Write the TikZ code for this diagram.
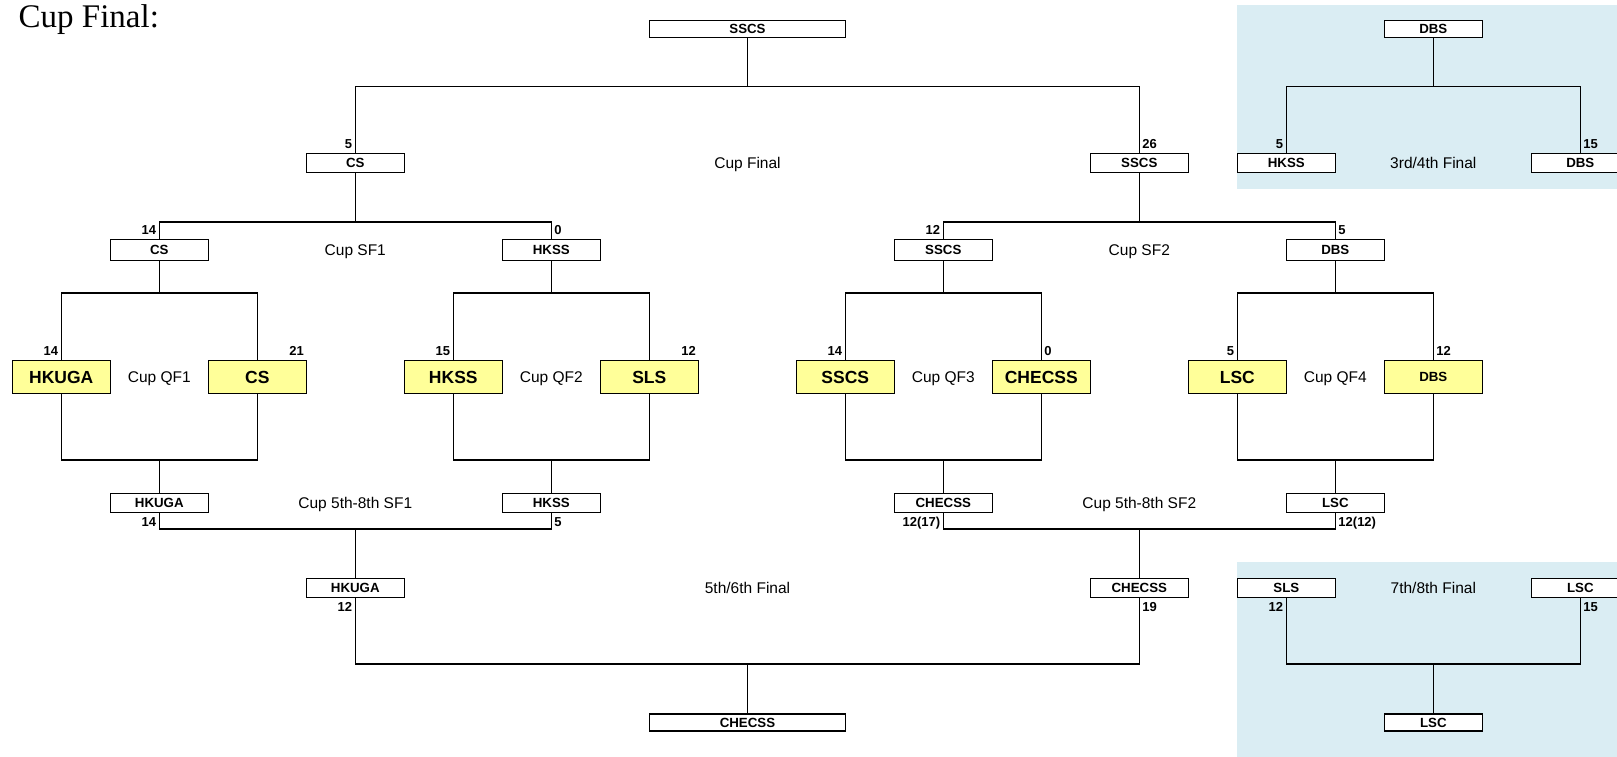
\documentclass[tikz,border=0pt]{standalone}
\usepackage{fontspec}
\setmainfont{Liberation Sans}
\newfontfamily\titlefont{Liberation Serif}
\definecolor{yel}{RGB}{255,255,153}
\definecolor{lblue}{RGB}{218,237,243}
\begin{document}
\begin{tikzpicture}[x=1pt,y=-1pt, line width=1.3pt,
 box/.style={draw, fill=white, minimum width=98pt, minimum height=19pt, inner sep=0pt, text height=9.5pt, text depth=0pt, font=\fontsize{13.3}{14}\selectfont\bfseries},
 widebox/.style={box, minimum width=196pt, minimum height=17pt},
 thinbox/.style={box, minimum height=17pt},
 sfbox/.style={box, minimum height=21pt},
 qfbox/.style={box, fill=yel, minimum height=33pt, text height=12.5pt, font=\fontsize{17.5}{19}\selectfont\bfseries},
 qfsmall/.style={box, fill=yel, minimum height=33pt},
 lbl/.style={inner sep=0pt, text height=11.1pt, text depth=0pt, font=\fontsize{15.5}{17}\selectfont},
 sc/.style={inner sep=0pt, font=\fontsize{13}{14}\selectfont\bfseries},
]
\clip (0,0) rectangle (1617,757);
\fill[lblue] (1236.7,5) rectangle (1617,189.3);
\fill[lblue] (1236.7,562) rectangle (1617,757);

\node[anchor=base west, inner sep=0pt, font=\titlefont\fontsize{33}{36}\selectfont] (title) at (18,28) {Cup Final:};

% junction levels
\coordinate (yF) at (0,86.5);
\coordinate (ySF) at (0,222);
\coordinate (yQ) at (0,293);
\coordinate (yQB) at (0,460);
\coordinate (y58) at (0,529);
\coordinate (y56) at (0,664);

% final
\node[widebox] (top) at (747.5,28.8) {SSCS};
\node[box] (fL) at (355.3,162.8) {CS};
\node[box] (fR) at (1139.3,162.8) {SSCS};
\node[lbl] (lF) at (747.5,162.8) {Cup Final};
% 3rd/4th
\node[thinbox] (top2) at (1433.3,28.8) {DBS};
\node[box] (h1) at (1286.3,162.8) {HKSS};
\node[box] (h2) at (1580.3,162.8) {DBS};
\node[lbl] (l34) at (1433.3,162.8) {3rd/4th Final};
% SF
\node[sfbox] (sf1) at (159.3,249.8) {CS};
\node[sfbox] (sf2) at (551.3,249.8) {HKSS};
\node[sfbox] (sf3) at (943.3,249.8) {SSCS};
\node[sfbox] (sf4) at (1335.3,249.8) {DBS};
\node[lbl] (lsf1) at (355.3,249.8) {Cup SF1};
\node[lbl] (lsf2) at (1139.3,249.8) {Cup SF2};
% QF
\node[qfbox] (q1) at (61.3,376.8) {HKUGA};
\node[qfbox] (q2) at (257.3,376.8) {CS};
\node[qfbox] (q3) at (453.3,376.8) {HKSS};
\node[qfbox] (q4) at (649.3,376.8) {SLS};
\node[qfbox] (q5) at (845.3,376.8) {SSCS};
\node[qfbox] (q6) at (1041.3,376.8) {CHECSS};
\node[qfbox] (q7) at (1237.3,376.8) {LSC};
\node[qfsmall] (q8) at (1433.3,376.8) {DBS};
\node[lbl] (lq1) at (159.3,376.8) {Cup QF1};
\node[lbl] (lq2) at (551.3,376.8) {Cup QF2};
\node[lbl] (lq3) at (943.3,376.8) {Cup QF3};
\node[lbl] (lq4) at (1335.3,376.8) {Cup QF4};
% 5th-8th SF
\node[box] (m1) at (159.3,502.8) {HKUGA};
\node[box] (m2) at (551.3,502.8) {HKSS};
\node[box] (m3) at (943.3,502.8) {CHECSS};
\node[box] (m4) at (1335.3,502.8) {LSC};
\node[lbl] (lm1) at (355.3,502.8) {Cup 5th-8th SF1};
\node[lbl] (lm2) at (1139.3,502.8) {Cup 5th-8th SF2};
% 5th/6th and 7th/8th
\node[box] (n1) at (355.3,587.8) {HKUGA};
\node[box] (n2) at (1139.3,587.8) {CHECSS};
\node[box] (n3) at (1286.3,587.8) {SLS};
\node[box] (n4) at (1580.3,587.8) {LSC};
\node[lbl] (l56) at (747.5,587.8) {5th/6th Final};
\node[lbl] (l78) at (1433.3,587.8) {7th/8th Final};
\node[widebox] (bot) at (747.5,722.6) {CHECSS};
\node[thinbox] (bot2) at (1433.3,722.6) {LSC};

% connectors
\draw (fL.north) -- (fL.north |- yF) -- (fR.north |- yF) -- (fR.north);
\draw (top.south) -- (top.south |- yF);
\draw (h1.north) -- (h1.north |- yF) -- (h2.north |- yF) -- (h2.north);
\draw (top2.south) -- (top2.south |- yF);

\draw (sf1.north) -- (sf1.north |- ySF) -- (sf2.north |- ySF) -- (sf2.north);
\draw (fL.south) -- (fL.south |- ySF);
\draw (sf3.north) -- (sf3.north |- ySF) -- (sf4.north |- ySF) -- (sf4.north);
\draw (fR.south) -- (fR.south |- ySF);

\draw (q1.north) -- (q1.north |- yQ) -- (q2.north |- yQ) -- (q2.north);
\draw (sf1.south) -- (sf1.south |- yQ);
\draw (q3.north) -- (q3.north |- yQ) -- (q4.north |- yQ) -- (q4.north);
\draw (sf2.south) -- (sf2.south |- yQ);
\draw (q5.north) -- (q5.north |- yQ) -- (q6.north |- yQ) -- (q6.north);
\draw (sf3.south) -- (sf3.south |- yQ);
\draw (q7.north) -- (q7.north |- yQ) -- (q8.north |- yQ) -- (q8.north);
\draw (sf4.south) -- (sf4.south |- yQ);

\draw (q1.south) -- (q1.south |- yQB) -- (q2.south |- yQB) -- (q2.south);
\draw (m1.north) -- (m1.north |- yQB);
\draw (q3.south) -- (q3.south |- yQB) -- (q4.south |- yQB) -- (q4.south);
\draw (m2.north) -- (m2.north |- yQB);
\draw (q5.south) -- (q5.south |- yQB) -- (q6.south |- yQB) -- (q6.south);
\draw (m3.north) -- (m3.north |- yQB);
\draw (q7.south) -- (q7.south |- yQB) -- (q8.south |- yQB) -- (q8.south);
\draw (m4.north) -- (m4.north |- yQB);

\draw (m1.south) -- (m1.south |- y58) -- (m2.south |- y58) -- (m2.south);
\draw (n1.north) -- (n1.north |- y58);
\draw (m3.south) -- (m3.south |- y58) -- (m4.south |- y58) -- (m4.south);
\draw (n2.north) -- (n2.north |- y58);

\draw (n1.south) -- (n1.south |- y56) -- (n2.south |- y56) -- (n2.south);
\draw (bot.north) -- (bot.north |- y56);
\draw (n3.south) -- (n3.south |- y56) -- (n4.south |- y56) -- (n4.south);
\draw (bot2.north) -- (bot2.north |- y56);

% scores
\node[sc, anchor=base east] (s1) at ([xshift=-2.5pt,yshift=4pt]fL.north) {5};
\node[sc, anchor=base west] (s2) at ([xshift=2.5pt,yshift=4pt]fR.north) {26};
\node[sc, anchor=base east] (s3) at ([xshift=-2.5pt,yshift=4pt]h1.north) {5};
\node[sc, anchor=base west] (s4) at ([xshift=2.5pt,yshift=4pt]h2.north) {15};
\node[sc, anchor=base east] (s5) at ([xshift=-2.5pt,yshift=4pt]sf1.north) {14};
\node[sc, anchor=base west] (s6) at ([xshift=2.5pt,yshift=4pt]sf2.north) {0};
\node[sc, anchor=base east] (s7) at ([xshift=-2.5pt,yshift=4pt]sf3.north) {12};
\node[sc, anchor=base west] (s8) at ([xshift=2.5pt,yshift=4pt]sf4.north) {5};
\node[sc, anchor=base east] (s9) at ([xshift=-2.5pt,yshift=4pt]q1.north) {14};
\node[sc, anchor=base east] (s10) at ([xshift=-2.5pt,yshift=4pt]q2.north east) {21};
\node[sc, anchor=base east] (s11) at ([xshift=-2.5pt,yshift=4pt]q3.north) {15};
\node[sc, anchor=base east] (s12) at ([xshift=-2.5pt,yshift=4pt]q4.north east) {12};
\node[sc, anchor=base east] (s13) at ([xshift=-2.5pt,yshift=4pt]q5.north) {14};
\node[sc, anchor=base west] (s14) at ([xshift=2.5pt,yshift=4pt]q6.north) {0};
\node[sc, anchor=base east] (s15) at ([xshift=-2.5pt,yshift=4pt]q7.north) {5};
\node[sc, anchor=base west] (s16) at ([xshift=2.5pt,yshift=4pt]q8.north) {12};
\node[sc, anchor=base east] (s17) at ([xshift=-2.5pt,yshift=-14pt]m1.south) {14};
\node[sc, anchor=base west] (s18) at ([xshift=2.5pt,yshift=-14pt]m2.south) {5};
\node[sc, anchor=base east] (s19) at ([xshift=-2.5pt,yshift=-14pt]m3.south) {12(17)};
\node[sc, anchor=base west] (s20) at ([xshift=2.5pt,yshift=-14pt]m4.south) {12(12)};
\node[sc, anchor=base east] (s21) at ([xshift=-2.5pt,yshift=-14pt]n1.south) {12};
\node[sc, anchor=base west] (s22) at ([xshift=2.5pt,yshift=-14pt]n2.south) {19};
\node[sc, anchor=base east] (s23) at ([xshift=-2.5pt,yshift=-14pt]n3.south) {12};
\node[sc, anchor=base west] (s24) at ([xshift=2.5pt,yshift=-14pt]n4.south) {15};
\end{tikzpicture}
\end{document}
